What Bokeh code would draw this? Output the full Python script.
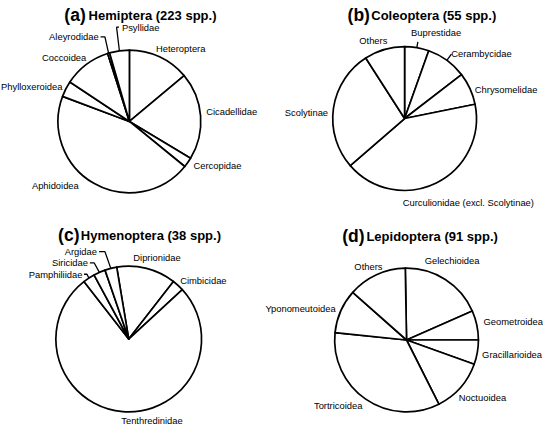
import math
from bokeh.plotting import figure
from bokeh.models import Range1d
from bokeh.core.properties import value
from bokeh.embed import file_html
from bokeh.resources import INLINE

# ---------------- data ----------------
hem_labels = ["Heteroptera", "Cicadellidae", "Cercopidae", "Aphidoidea",
              "Phylloxeroidea", "Coccoidea", "Aleyrodidae", "Psyllidae"]
hem_counts = [31, 44, 5, 100, 8, 24, 1, 10]

col_labels = ["Buprestidae", "Cerambycidae", "Chrysomelidae",
              "Curculionidae (excl. Scolytinae)", "Scolytinae", "Others"]
col_counts = [3, 5, 4, 23, 15, 5]

hym_labels = ["Diprionidae", "Cimbicidae", "Tenthredinidae",
              "Pamphiliidae", "Siricidae", "Argidae"]
hym_counts = [5, 1, 29, 1, 1, 1]

lep_labels = ["Gelechioidea", "Geometroidea", "Gracillarioidea", "Noctuoidea",
              "Tortricoidea", "Yponomeutoidea", "Others"]
lep_counts = [17, 6, 5, 11, 31, 9, 12]

panel_letters = ["a", "b", "c", "d"]
panel_orders = ["Hemiptera", "Coleoptera", "Hymenoptera", "Lepidoptera"]

# ---------------- layout (reference pixel coordinates, y downwards) ----------------
layouts = [
    dict(cx=132.7, cy=127.0, r=73.5, start=90.0,
         letter_x=65.7, name_x=90.7, base=17.5,
         pos=[(160, 51.7, "left"), (211.7, 116.7, "left"), (198.7, 172.3, "left"),
              (32.3, 192.7, "left"), (0.5, 90.7, "left"), (42.7, 61.0, "left"),
              (101.0, 40.0, "right"), (125.0, 30.0, "left")],
         leaders={"Psyllidae": [(122.0, 30.0), (119.5, 30.0)],
                  "Aleyrodidae": [(103.0, 40.0), (107.5, 40.0)]},
         ticks={}),
    dict(cx=416.0, cy=124.0, r=74.0, start=90.0,
         letter_x=357.3, name_x=381.7, base=17.5,
         pos=[(422.7, 35.7, "left"), (464.0, 56.7, "left"), (488.3, 94.3, "left"),
              (414.0, 210.7, "left"), (292.7, 117.3, "left"), (369.3, 43.3, "left")],
         leaders={},
         ticks={"Buprestidae": 6.0, "Cerambycidae": 8.0}),
    dict(cx=132.0, cy=351.0, r=75.0, start=99.5,
         letter_x=59.3, name_x=82.7, base=244.0,
         pos=[(136.7, 266.7, "left"), (185.0, 290.7, "left"), (124.3, 435.0, "left"),
              (84.3, 284.3, "right"), (90.0, 272.7, "right"), (99.3, 261.0, "right")],
         leaders={"Argidae": [(101.5, 261.0), (107.5, 261.0)],
                  "Siricidae": [(92.0, 272.7), (96.5, 272.7)],
                  "Pamphiliidae": [(86.0, 284.3), (89.0, 284.3)]},
         ticks={}),
    dict(cx=418.0, cy=352.0, r=74.0, start=91.0,
         letter_x=351.7, name_x=376.7, base=245.0,
         pos=[(436.7, 270.0, "left"), (497.3, 333.3, "left"), (557.5, 366.7, "right"),
              (471.7, 411.7, "left"), (322.7, 419.0, "left"), (345.0, 320.0, "right"),
              (364.3, 276.0, "left")],
         leaders={},
         ticks={}),
]

all_labels = [hem_labels, col_labels, hym_labels, lep_labels]
all_counts = [hem_counts, col_counts, hym_counts, lep_counts]

# ---------------- figure ----------------
W, H = 543, 426
REF_W = 559.0
scale = W / REF_W
span_y = H / scale
top = 2.5

p = figure(width=W, height=H, x_range=Range1d(0, REF_W),
           y_range=Range1d(-(top + span_y), -top),
           output_backend="svg", toolbar_location=None, min_border=0)
p.axis.visible = False
p.grid.visible = False
p.outline_line_color = None
p.background_fill_color = "white"
p.border_fill_color = "white"

FONT = value("Liberation Sans")
LW = 1.7

for labels, counts, lay, letter, order in zip(all_labels, all_counts, layouts,
                                              panel_letters, panel_orders):
    total = sum(counts)
    cx, cy, r = lay["cx"], lay["cy"], lay["r"]
    a0 = lay["start"]
    starts, ends, mids = [], [], []
    for c in counts:
        a1 = a0 - c / total * 360.0
        starts.append(math.radians(a1))
        ends.append(math.radians(a0))
        mids.append(math.radians((a0 + a1) / 2.0))
        a0 = a1
    n = len(counts)
    p.wedge(x=[cx] * n, y=[-cy] * n, radius=r, start_angle=starts, end_angle=ends,
            direction="anticlock", fill_color="white", line_color="black",
            line_width=LW, line_join="round")

    # labels
    for align in ("left", "right", "center"):
        xs, ys, ts = [], [], []
        for lab, (lx, ly, al) in zip(labels, lay["pos"]):
            if al == align:
                xs.append(lx); ys.append(-ly); ts.append(lab)
        if xs:
            p.text(x=xs, y=ys, text=ts, text_align=align, text_baseline="middle",
                   text_font=FONT, text_font_size=value("9.4px"), text_color="black")

    # leaders with elbow
    lxs, lys = [], []
    for lab, pts in lay["leaders"].items():
        m = mids[labels.index(lab)]
        ex, ey = cx + r * math.cos(m), cy - r * math.sin(m)
        lxs.append([pt[0] for pt in pts] + [ex])
        lys.append([-pt[1] for pt in pts] + [-ey])
    for lab, ext in lay["ticks"].items():
        m = mids[labels.index(lab)]
        lxs.append([cx + r * math.cos(m), cx + (r + ext) * math.cos(m)])
        lys.append([-(cy - r * math.sin(m)), -(cy - (r + ext) * math.sin(m))])
    if lxs:
        p.multi_line(xs=lxs, ys=lys, line_color="black", line_width=1.3)

    # title
    p.text(x=[lay["letter_x"]], y=[-lay["base"]], text=["(%s)" % letter],
           text_align="left", text_baseline="alphabetic", text_font=FONT,
           text_font_style="bold", text_font_size=value("17.5px"), text_color="black")
    p.text(x=[lay["name_x"]], y=[-lay["base"]], text=["%s (%d spp.)" % (order, total)],
           text_align="left", text_baseline="alphabetic", text_font=FONT,
           text_font_style="bold", text_font_size=value("13px"), text_color="black")

open("out.html", "w").write(file_html(p, INLINE))
